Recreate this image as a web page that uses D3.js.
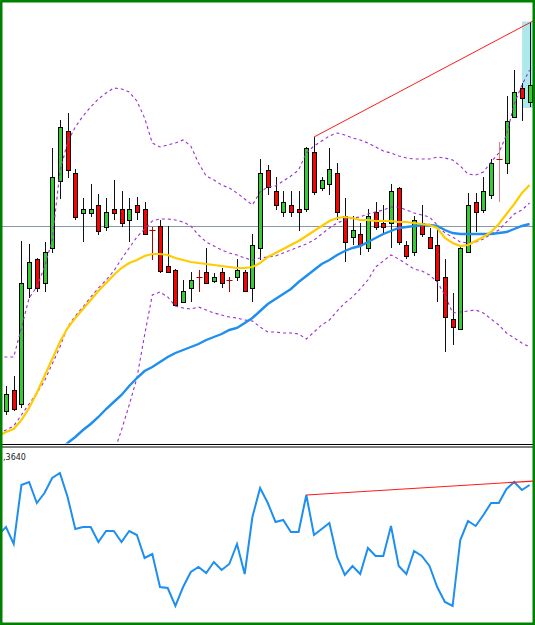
<!DOCTYPE html>
<html>
<head>
<meta charset="utf-8">
<script src="https://cdn.jsdelivr.net/npm/d3@7"></script>
<style>
  html, body { margin: 0; padding: 0; background: #fff; }
  svg { display: block; }
</style>
</head>
<body>
<svg id="chart" width="535" height="625"></svg>
<script>
// ---------- DATA ----------
const bars = d3.range(69); // bar indices 0..68

const open = [
 1.3332,1.3353,1.3339,1.3455,1.3484,1.3460,1.3495,1.3562,1.3612,1.3570,
 1.3530,1.3530,1.3538,1.3516,1.3534,1.3534,1.3523,1.3538,1.3534,1.3513,
 1.3517,1.3477,1.3473,1.3441,1.3455,1.3466,1.3471,1.3462,1.3471,1.3463,
 1.3466,1.3471,1.3455,1.3495,1.3573,1.3552,1.3531,1.3538,1.3534,1.3534,
 1.3591,1.3555,1.3559,1.3570,1.3527,1.3506,1.3509,1.3495,1.3531,1.3520,
 1.3520,1.3555,1.3498,1.3491,1.3520,1.3506,1.3498,1.3466,1.3424,1.3414,
 1.3491,1.3541,1.3533,1.3548,1.3584,1.3580,1.3626,1.3655,1.3641];
const high = [
 1.3357,1.3367,1.3502,1.3499,1.3485,1.3501,1.3595,1.3623,1.3630,1.3574,
 1.3545,1.3559,1.3549,1.3545,1.3563,1.3552,1.3545,1.3546,1.3541,1.3516,
 1.3523,1.3517,1.3474,1.3463,1.3471,1.3473,1.3495,1.3470,1.3475,1.3466,
 1.3484,1.3473,1.3509,1.3584,1.3578,1.3566,1.3552,1.3552,1.3552,1.3596,
 1.3606,1.3566,1.3595,1.3580,1.3545,1.3527,1.3520,1.3534,1.3541,1.3538,
 1.3559,1.3556,1.3502,1.3527,1.3538,1.3515,1.3516,1.3484,1.3450,1.3496,
 1.3550,1.3550,1.3566,1.3584,1.3601,1.3647,1.3673,1.3660,1.3721];
const low = [
 1.3328,1.3332,1.3335,1.3445,1.3451,1.3451,1.3490,1.3544,1.3565,1.3523,
 1.3501,1.3526,1.3508,1.3512,1.3523,1.3516,1.3501,1.3523,1.3508,1.3483,
 1.3470,1.3470,1.3438,1.3440,1.3441,1.3451,1.3460,1.3460,1.3455,1.3451,
 1.3462,1.3451,1.3441,1.3483,1.3548,1.3533,1.3526,1.3526,1.3512,1.3531,
 1.3548,1.3552,1.3548,1.3523,1.3481,1.3498,1.3488,1.3491,1.3513,1.3508,
 1.3495,1.3498,1.3484,1.3487,1.3506,1.3495,1.3441,1.3391,1.3398,1.3413,
 1.3491,1.3511,1.3530,1.3544,1.3541,1.3569,1.3626,1.3622,1.3636];
const close = [
 1.3349,1.3334,1.3460,1.3481,1.3455,1.3491,1.3566,1.3616,1.3573,1.3526,
 1.3534,1.3534,1.3512,1.3531,1.3530,1.3520,1.3534,1.3531,1.3509,1.3513,
 1.3472,1.3471,1.3438,1.3452,1.3463,1.3466,1.3460,1.3466,1.3460,1.3463,
 1.3473,1.3452,1.3498,1.3570,1.3556,1.3538,1.3541,1.3531,1.3531,1.3595,
 1.3551,1.3563,1.3574,1.3531,1.3501,1.3513,1.3498,1.3527,1.3516,1.3516,
 1.3552,1.3501,1.3487,1.3523,1.3509,1.3495,1.3463,1.3426,1.3416,1.3495,
 1.3538,1.3531,1.3552,1.3580,1.3584,1.3622,1.3651,1.3645,1.3658];

// indicator series: first value belongs to the bar before index 0 (index -1)
const bbUpper = [1.3386,
 1.3386,1.3386,1.3415,1.3445,1.3456,1.3476,1.3503,1.3571,1.3601,1.3616,
 1.3627,1.3636,1.3644,1.3650,1.3655,1.3654,1.3651,1.3642,1.3625,1.3600,
 1.3596,1.3598,1.3600,1.3603,1.3597,1.3580,1.3567,1.3563,1.3558,1.3555,
 1.3550,1.3544,1.3538,1.3551,1.3556,1.3557,1.3562,1.3567,1.3573,1.3590,
 1.3597,1.3602,1.3607,1.3610,1.3608,1.3605,1.3603,1.3600,1.3596,1.3592,
 1.3590,1.3587,1.3585,1.3584,1.3584,1.3584,1.3586,1.3585,1.3583,1.3577,
 1.3569,1.3568,1.3571,1.3581,1.3590,1.3608,1.3639,1.3658,1.3673];
const bbMiddle = [1.3310,
 1.3313,1.3317,1.3328,1.3339,1.3350,1.3362,1.3379,1.3396,1.3416,1.3427,
 1.3436,1.3446,1.3455,1.3463,1.3472,1.3484,1.3495,1.3506,1.3514,1.3522,
 1.3524,1.3524,1.3523,1.3521,1.3517,1.3508,1.3501,1.3497,1.3493,1.3490,
 1.3488,1.3485,1.3483,1.3485,1.3486,1.3487,1.3490,1.3493,1.3496,1.3499,
 1.3503,1.3509,1.3515,1.3520,1.3523,1.3525,1.3526,1.3529,1.3531,1.3533,
 1.3536,1.3536,1.3533,1.3530,1.3528,1.3526,1.3518,1.3510,1.3506,1.3501,
 1.3500,1.3501,1.3504,1.3509,1.3513,1.3521,1.3529,1.3533,1.3540];
const bbLower = [null,
 null,null,null,null,null,null,null,null,null,null,
 null,null,null,null,1.3290,1.3313,1.3338,1.3365,1.3408,1.3448,
 1.3451,1.3446,1.3437,1.3435,1.3434,1.3436,1.3433,1.3430,1.3428,1.3426,
 1.3425,1.3423,1.3422,1.3416,1.3411,1.3411,1.3410,1.3410,1.3409,1.3404,
 1.3411,1.3418,1.3423,1.3432,1.3440,1.3446,1.3454,1.3463,1.3476,1.3482,
 1.3488,1.3484,1.3479,1.3474,1.3472,1.3468,1.3461,1.3448,1.3430,1.3431,
 1.3432,1.3433,1.3430,1.3424,1.3418,1.3410,1.3405,1.3400,1.3396];
const maFast = [1.3307,
 1.3311,1.3314,1.3323,1.3335,1.3350,1.3367,1.3384,1.3401,1.3415,1.3425,
 1.3434,1.3443,1.3452,1.3460,1.3468,1.3475,1.3480,1.3483,1.3487,1.3489,
 1.3489,1.3488,1.3485,1.3483,1.3481,1.3480,1.3479,1.3478,1.3477,1.3476,
 1.3475,1.3475,1.3476,1.3480,1.3486,1.3490,1.3494,1.3498,1.3502,1.3507,
 1.3512,1.3517,1.3522,1.3525,1.3526,1.3525,1.3523,1.3523,1.3522,1.3522,
 1.3522,1.3521,1.3521,1.3520,1.3519,1.3518,1.3515,1.3505,1.3500,1.3497,
 1.3498,1.3502,1.3506,1.3511,1.3519,1.3529,1.3539,1.3550,1.3558];
const maSlow = [null,
 null,null,null,null,null,null,null,1.3293,1.3300,1.3306,
 1.3313,1.3319,1.3326,1.3334,1.3341,1.3348,1.3357,1.3365,1.3372,1.3376,
 1.3381,1.3386,1.3390,1.3393,1.3396,1.3399,1.3403,1.3406,1.3409,1.3413,
 1.3415,1.3420,1.3425,1.3432,1.3439,1.3444,1.3449,1.3454,1.3461,1.3467,
 1.3473,1.3479,1.3483,1.3488,1.3492,1.3495,1.3497,1.3501,1.3505,1.3509,
 1.3512,1.3515,1.3516,1.3517,1.3518,1.3518,1.3517,1.3513,1.3510,1.3509,
 1.3509,1.3509,1.3509,1.3509,1.3510,1.3511,1.3514,1.3517,1.3519];
const oscillator = [87,
 95,78,137,140,119,129,144,149,125,93,
 95,95,80,91,91,80,91,87,64,68,
 35,34,16,35,50,55,49,60,52,58,
 78,48,105,134,119,100,102,90,90,127,
 87,93,99,65,47,56,48,74,66,66,
 96,56,48,71,66,56,35,20,16,82,
 101,96,107,119,119,133,140,132,137];

const hLevel = 1.3517;
const priceTrend = [{i: 40, v: 1.3606}, {i: 68.45, v: 1.3722}];
const oscTrend = [{i: 39, v: 127}, {i: 68.6, v: 141}];
const oscLabel = ",3640";
const markedBar = 64;

// ---------- LAYOUT ----------
const W = 535, H = 625;
const svg = d3.select("#chart");

const x = d3.scaleLinear().domain([0, 68]).range([6, 529.6]);
const y = d3.scaleLinear().domain([1.3300, 1.3743]).range([443, 0]);
const yo = d3.scaleLinear().domain([0, 175]).range([622, 447]);

svg.append("rect").attr("width", W).attr("height", H).attr("fill", "#fff");

const defs = svg.append("defs");
defs.append("clipPath").attr("id", "clipMain")
  .append("rect").attr("x", 2).attr("y", 2).attr("width", 531).attr("height", 441.5);
defs.append("clipPath").attr("id", "clipOsc")
  .append("rect").attr("x", 2).attr("y", 448).attr("width", 531).attr("height", 174.5);

const main = svg.append("g").attr("clip-path", "url(#clipMain)");

// horizontal level
main.append("line")
  .attr("x1", 0).attr("x2", W)
  .attr("y1", Math.round(y(hLevel)) + 0.5).attr("y2", Math.round(y(hLevel)) + 0.5)
  .attr("stroke", "#8a98a6").attr("stroke-width", 1);

// highlight behind last bar
const lastI = 68;
main.append("rect")
  .attr("x", x(lastI) - 7.5).attr("width", 11)
  .attr("y", y(high[lastI]) - 0.5).attr("height", y(low[lastI]) - y(high[lastI]) + 1.5)
  .attr("fill", "#ade8ea");

// candles
const cg = main.append("g");
bars.forEach(i => {
  const cx = Math.round(x(i)) + 0.5;
  const o = open[i], c = close[i];
  const doji = Math.abs(o - c) < 1e-9;
  const wickColor = doji ? (i === markedBar ? "#e58080" : "#b00000") : "#111";
  cg.append("line")
    .attr("x1", cx).attr("x2", cx)
    .attr("y1", y(high[i])).attr("y2", y(low[i]))
    .attr("stroke", wickColor).attr("stroke-width", 1);
  if (doji) {
    cg.append("line")
      .attr("x1", cx - 3).attr("x2", cx + 3)
      .attr("y1", Math.round(y(o)) + 0.5).attr("y2", Math.round(y(o)) + 0.5)
      .attr("stroke", "#b00000").attr("stroke-width", 1);
  } else {
    const top = y(Math.max(o, c)), bot = y(Math.min(o, c));
    cg.append("rect")
      .attr("x", cx - 2).attr("width", 4)
      .attr("y", Math.round(top) + 0.5).attr("height", Math.max(1, Math.round(bot - top)))
      .attr("fill", c > o ? "#33cc33" : "#ff0000")
      .attr("stroke", "#000").attr("stroke-width", 1);
  }
});

// indicator lines (index k in array is bar k-1)
function seriesLine(yScale) {
  return d3.line()
    .defined(d => d != null)
    .x((d, k) => x(k - 1))
    .y(d => yScale(d));
}
const bandStyle = s => s.attr("fill", "none").attr("stroke", "#9b30d0")
  .attr("stroke-width", 1.1).attr("stroke-dasharray", "3,3");

[bbUpper, bbMiddle, bbLower].forEach(arr => {
  main.append("path").datum(arr).attr("d", seriesLine(y)).call(bandStyle);
});

main.append("path").datum(maSlow).attr("d", seriesLine(y))
  .attr("fill", "none").attr("stroke", "#1e8ff0").attr("stroke-width", 2.4);
main.append("path").datum(maFast).attr("d", seriesLine(y))
  .attr("fill", "none").attr("stroke", "#ffcc00").attr("stroke-width", 2.2);

// trend line on price
main.append("path").datum(priceTrend)
  .attr("d", d3.line().x(d => x(d.i)).y(d => y(d.v)))
  .attr("fill", "none").attr("stroke", "#ff1a1a").attr("stroke-width", 1);

// ---------- OSCILLATOR PANEL ----------
const osc = svg.append("g").attr("clip-path", "url(#clipOsc)");
osc.append("path").datum(oscillator).attr("d", seriesLine(yo))
  .attr("fill", "none").attr("stroke", "#1e8ff0").attr("stroke-width", 2);
osc.append("path").datum(oscTrend)
  .attr("d", d3.line().x(d => x(d.i)).y(d => yo(d.v)))
  .attr("fill", "none").attr("stroke", "#ff1a1a").attr("stroke-width", 1.2);

svg.append("text")
  .attr("x", 3).attr("y", 460)
  .attr("font-family", "Tahoma, 'DejaVu Sans', sans-serif")
  .attr("font-size", 8).attr("fill", "#222")
  .text(oscLabel);

// separator
svg.append("line").attr("x1", 2).attr("x2", 533).attr("y1", 444.5).attr("y2", 444.5)
  .attr("stroke", "#000").attr("stroke-width", 1);
svg.append("line").attr("x1", 2).attr("x2", 533).attr("y1", 447).attr("y2", 447)
  .attr("stroke", "#000").attr("stroke-width", 1);

// outer green frame
svg.append("rect").attr("x", 1.25).attr("y", 1.25)
  .attr("width", W - 2.5).attr("height", H - 2.5)
  .attr("fill", "none").attr("stroke", "#008000").attr("stroke-width", 2.5);
</script>
</body>
</html>
